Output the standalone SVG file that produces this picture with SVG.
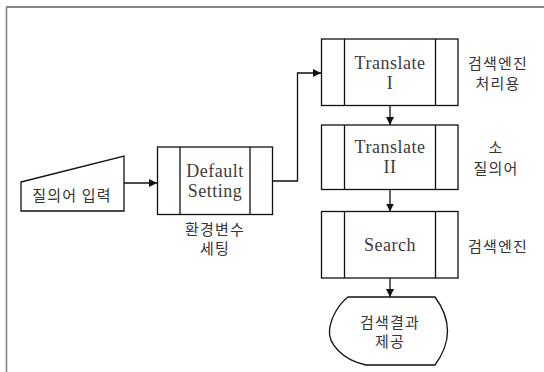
<svg xmlns="http://www.w3.org/2000/svg" width="544" height="372" viewBox="0 0 544 372">
  <style>
    .shape { fill: #ffffff; stroke: #111111; stroke-width: 1.3; }
    .bar { stroke: #111111; stroke-width: 1.3; fill: none; }
    .edge { fill: none; stroke: #111111; stroke-width: 1.3; marker-end: url(#head); }
    text { fill: #3c3c3c; text-anchor: middle; font-weight: normal; }
    .ko { font-family: "Noto Sans CJK KR", sans-serif; font-size: 15px; letter-spacing: 1.2px; fill: #333333; }
  </style>
  <defs>
    <marker id="head" viewBox="0 0 10 10" refX="10" refY="5" markerWidth="8" markerHeight="8" markerUnits="userSpaceOnUse" orient="auto">
      <path d="M0,0 L10,5 L0,10 Z" fill="#111111"/>
    </marker>
  </defs>

  <rect width="544" height="372" fill="#ffffff"/>

  <!-- page frame -->
  <line x1="6" y1="7" x2="544" y2="7" stroke="#111111" stroke-width="1.2"/>
  <line x1="6.5" y1="7" x2="6.5" y2="372" stroke="#888888" stroke-width="1.6"/>

  <!-- connectors -->
  <g id="connectors">
    <path class="edge" d="M124,183 L157,183"/>
    <path class="edge" d="M273,181 L297.5,181 L297.5,73 L321,73"/>
    <path class="edge" d="M390,105.5 L390,125"/>
    <path class="edge" d="M390,189.5 L390,211.5"/>
    <path class="edge" d="M390,278 L390,297"/>
  </g>

  <!-- Latin labels: serif; Korean labels: CJK -->
  <g font-family="'Liberation Serif', 'Times New Roman', serif" font-size="18" letter-spacing="0.5">
    <g id="default-setting">
      <rect class="shape" x="157.5" y="147" width="115" height="67.5"/>
      <line class="bar" x1="180" y1="147" x2="180" y2="214.5"/>
      <line class="bar" x1="250" y1="147" x2="250" y2="214.5"/>
      <text x="215" y="177">Default</text>
      <text x="215" y="197">Setting</text>
      <text class="ko" x="215" y="235">환경변수</text>
      <text class="ko" x="215" y="254">세팅</text>
    </g>

    <g id="translate-1">
      <rect class="shape" x="321.5" y="39" width="136.5" height="66.5"/>
      <line class="bar" x1="344.5" y1="39" x2="344.5" y2="105.5"/>
      <line class="bar" x1="435.5" y1="39" x2="435.5" y2="105.5"/>
      <text x="390" y="68.5">Translate</text>
      <text x="390" y="88.5">I</text>
      <text class="ko" x="498" y="69">검색엔진</text>
      <text class="ko" x="498" y="88.5">처리용</text>
    </g>

    <g id="translate-2">
      <rect class="shape" x="321.5" y="125" width="136.5" height="64.5"/>
      <line class="bar" x1="344.5" y1="125" x2="344.5" y2="189.5"/>
      <line class="bar" x1="435.5" y1="125" x2="435.5" y2="189.5"/>
      <text x="390" y="152.7">Translate</text>
      <text x="390" y="172.5">II</text>
      <text class="ko" x="496" y="152.7">소</text>
      <text class="ko" x="496" y="173.5">질의어</text>
    </g>

    <g id="search">
      <rect class="shape" x="321.5" y="211.5" width="136.5" height="66.5"/>
      <line class="bar" x1="344.5" y1="211.5" x2="344.5" y2="278"/>
      <line class="bar" x1="435.5" y1="211.5" x2="435.5" y2="278"/>
      <text x="390" y="250.5">Search</text>
      <text class="ko" x="498" y="251.5">검색엔진</text>
    </g>
  </g>

  <g id="query-input">
    <path class="shape" d="M21,182 L124,156 L124,211 L21,211 Z"/>
    <text class="ko" x="72" y="201">질의어 입력</text>
  </g>

  <g id="result">
    <path class="shape" d="M348,297 L435,297 Q460,331 435,365 L366,365 C342,360 328,343 329.5,330 C331,316 340,303 348,297 Z"/>
    <text class="ko" x="390" y="328">검색결과</text>
    <text class="ko" x="390" y="347">제공</text>
  </g>
</svg>
